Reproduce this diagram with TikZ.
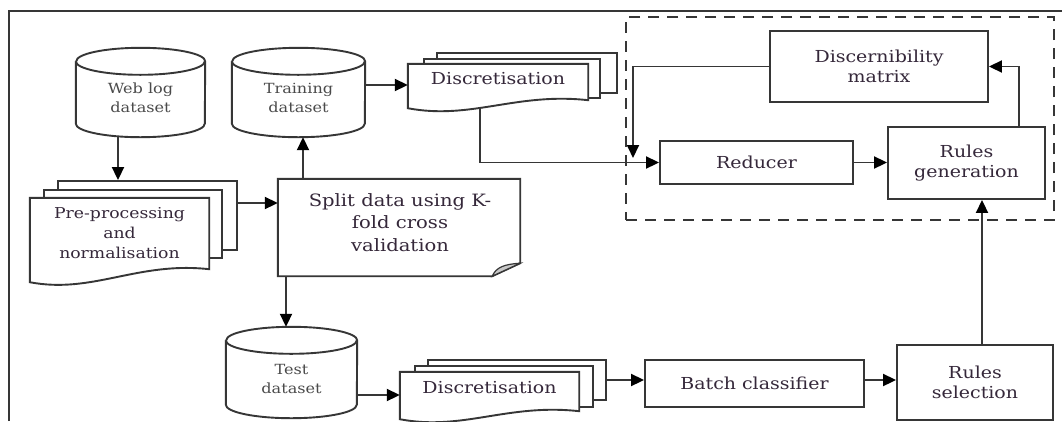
\documentclass[tikz,border=0pt]{standalone}
\usepackage{fontspec}
\setmainfont{DejaVu Serif}[FakeStretch=1.15]
\usetikzlibrary{arrows.meta,calc,backgrounds}
\definecolor{linec}{HTML}{363636}
\definecolor{txtc}{HTML}{35283A}
\definecolor{ctxtc}{HTML}{4A4A4A}
\definecolor{foldc}{HTML}{C8C8C8}

\newcommand\cylout[2]{%
  \draw[shapeline] ([yshift=-13.5pt]#1.north west) -- ([yshift=13.5pt]#1.south west)
    arc[start angle=180,end angle=360,x radius=#2pt,y radius=13.5pt]
    -- ([yshift=-13.5pt]#1.north east)
    arc[start angle=0,end angle=180,x radius=#2pt,y radius=13.5pt];
  \draw[shapeline] ([yshift=-13.5pt]#1.north west)
    arc[start angle=180,end angle=360,x radius=#2pt,y radius=13.5pt];
}
\newcommand\docfront[3]{%
  \draw[shapeline,fill=white] (#1.north west) -- (#1.north east) -- ($(#1.south east)+(0,#3)$)
   .. controls ($(#1.south west)!0.6!(#1.south east)+(0,#3-8)$) and ($(#1.south west)!0.35!(#1.south east)+(0,#2+12)$) .. ($(#1.south west)+(0,#2)$) -- cycle;
}

\begin{document}
\begin{tikzpicture}[x=1pt,y=-1pt,
  shapeline/.style={draw=linec,line width=1.9pt},
  conn/.style={draw=linec,line width=1.9pt,-{Triangle[length=13pt,width=12pt,color=black]}},
  txt/.style={text=txtc,font=\fontsize{16.5}{20}\selectfont,align=center,inner sep=0pt},
  ctxt/.style={text=ctxtc,font=\fontsize{14}{19}\selectfont,align=center,inner sep=0pt},
  box/.style={txt,shapeline,fill=white},
  back/.style={shapeline,fill=white,inner sep=0pt},
  empty/.style={inner sep=0pt},
  framel/.style={draw=linec,line width=2.8pt},
  grpbox/.style={draw=linec,line width=2.6pt,dash pattern=on 11pt off 8pt,inner sep=0pt}
]
\useasboundingbox (0,0) rectangle (1062,421);

% outer frame
\draw[framel] (9,421) -- (9,11) -- (1062,11);

% dashed group
\node[grpbox,minimum width=428pt,minimum height=203pt] (grp) at (840,118.5) {};

% cylinders (shape holders)
\node[empty,minimum width=129pt,minimum height=89pt] (weblog) at (140.5,92.5) {};
\node[empty,minimum width=133pt,minimum height=89pt] (training) at (298.5,92.5) {};
\node[empty,minimum width=131pt,minimum height=91pt] (test) at (291.5,372.5) {};
\node[ctxt] (weblogt) at ([yshift=-5pt]weblog.center) {Web log\\dataset};
\node[ctxt] (trainingt) at ([yshift=-5pt]training.center) {Training\\dataset};
\node[ctxt] (testt) at ([yshift=-6pt]test.center) {Test\\dataset};

% documents (front text areas)
\node[txt,font=\fontsize{15}{20}\selectfont,minimum width=179pt,minimum height=70pt] (pre) at (119.5,233) {Pre-processing\\and\\normalisation};
\node[txt,minimum width=180pt,minimum height=30pt] (disc1) at (498,79) {Discretisation};
\node[txt,minimum width=179pt,minimum height=32pt] (disc2) at (489.5,388) {Discretisation};
\node[empty,minimum width=242pt,minimum height=97pt] (split) at (399,227.5) {};
\node[txt,font=\fontsize{17}{22.5}\selectfont] (splitt) at (400,222.5) {Split data using K-\\fold cross\\validation};

% boxes
\node[box,minimum width=218pt,minimum height=71pt] (dm) at (879,66.5) {Discernibility\\matrix};
\node[box,minimum width=193pt,minimum height=43pt] (red) at (756.5,162.5) {Reducer};
\node[box,minimum width=157pt,minimum height=72pt] (rg) at (966.5,163) {Rules\\generation};
\node[box,minimum width=219pt,minimum height=47pt] (batch) at (754.5,383.5) {Batch classifier};
\node[box,minimum width=156pt,minimum height=75pt] (rs) at (975,382.5) {Rules\\selection};

\begin{pgfonlayer}{background}
  \fill[white] (0,0) rectangle (1062,421);
  % pre-processing stack
  \node[back,minimum width=179pt,minimum height=69pt] (preback) at (147.5,215.5) {};
  \node[back,minimum width=178pt,minimum height=68pt] (premid) at (133,224) {};
  \docfront{pre}{14}{1}
  % discretisation 1 stack
  \node[back,minimum width=180pt,minimum height=40pt] (d1back) at (527,73) {};
  \node[back,minimum width=176pt,minimum height=39pt] (d1mid) at (512,78.5) {};
  \docfront{disc1}{14}{6}
  % discretisation 2 stack
  \node[back,minimum width=178pt,minimum height=40pt] (d2back) at (517,380) {};
  \node[back,minimum width=178pt,minimum height=41pt] (d2mid) at (504,386.5) {};
  \docfront{disc2}{15}{7}
  % split page with curled corner
  \draw[shapeline,fill=white] (split.north west) -- (split.north east) -- ([yshift=13pt]split.south east)
     -- ([xshift=-28pt]split.south east) -- (split.south west) -- cycle;
  \draw[draw=linec,line width=1.2pt,fill=foldc] ([xshift=-28pt]split.south east)
     .. controls ([shift={(-24pt,9pt)}]split.south east) and ([shift={(-16pt,12pt)}]split.south east)
     .. ([yshift=13pt]split.south east) -- cycle;
  % cylinders
  \cylout{weblog}{64.5}
  \cylout{training}{66.5}
  \cylout{test}{65.5}
\end{pgfonlayer}

% connectors
\coordinate (fbk) at (633,158);
\draw[conn] ([xshift=-22.5pt]weblog.south) -- ([xshift=-22.5pt]weblog.south |- preback.north);
\draw[conn] ([yshift=12.5pt]preback.east) -- ([yshift=12.5pt]preback.east -| split.west);
\draw[conn] ([xshift=4.5pt]training.south |- split.north) -- ([xshift=4.5pt]training.south);
\draw[conn] ([xshift=-5.5pt]test.north |- split.south) -- ([xshift=-5.5pt]test.north);
\draw[conn] ([yshift=7.5pt]training.east) -- ([yshift=7.5pt]training.east -| disc1.west);
\draw[conn] ([shift={(-18,15)}]disc1.south) |- (red.west);
\draw[conn] (red.east) -- (red.east -| rg.west);
\draw[conn] ([xshift=52.5pt]rg.north) |- (dm.east);
\draw[conn] (dm.west) -| (fbk);
\draw[conn] ([yshift=-22.5pt]test.east) -- ([yshift=-22.5pt]test.east -| disc2.west);
\draw[conn] ([yshift=3.5pt]batch.west -| d2back.east) -- ([yshift=3.5pt]batch.west);
\draw[conn] ([yshift=3.5pt]batch.east) -- ([yshift=3.5pt]batch.east -| rs.west);
\draw[conn] ([xshift=7pt]rs.north) -- ([xshift=7pt]rs.north |- rg.south);
\end{tikzpicture}
\end{document}
